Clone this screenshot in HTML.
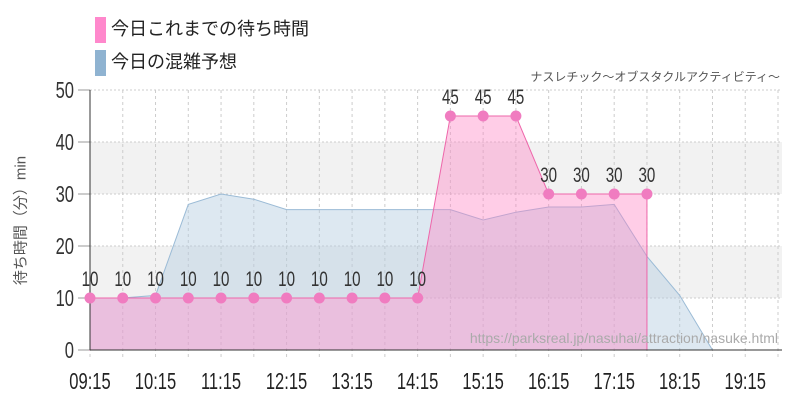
<!DOCTYPE html>
<html><head><meta charset="utf-8"><style>
body{margin:0;background:#fff;width:800px;height:400px;overflow:hidden;font-family:"Liberation Sans","Noto Sans CJK JP",sans-serif}
</style></head><body>
<svg id="c" width="800" height="400" xmlns="http://www.w3.org/2000/svg" font-family="'Liberation Sans','Noto Sans CJK JP',sans-serif"></svg>
<script>
const times=["09:15","09:45","10:15","10:45","11:15","11:45","12:15","12:45","13:15","13:45","14:15","14:45","15:15","15:45","16:15","16:45","17:15","17:45","18:15","18:45","19:15","19:45"];
const actual=[10,10,10,10,10,10,10,10,10,10,10,45,45,45,30,30,30,30];
const forecast=[10,10,10.5,28,30,29,27,27,27,27,27,27,25,26.5,27.5,27.5,28,18,10.5,0,0,0];
const yTicks=[0,10,20,30,40,50];
const xTickLabels=["09:15","10:15","11:15","12:15","13:15","14:15","15:15","16:15","17:15","18:15","19:15"];
const X0=90,X1=778,Y0=350,Y1=90,SX=0.72;
const xs=i=>X0+i*(X1-X0)/(times.length-1);
const ys=v=>Y0-v*(Y0-Y1)/50;
const svg=document.getElementById('c');const NS='http://www.w3.org/2000/svg';
function mk(t,a,p){const e=document.createElementNS(NS,t);for(const k in a)e.setAttribute(k,a[k]);(p||svg).appendChild(e);return e;}
for(let i=0;i<5;i++){if(i%2===1){const r=mk('rect',{x:X0,y:ys(yTicks[i+1]),width:X1-X0+4,height:ys(yTicks[i])-ys(yTicks[i+1]),fill:'#f2f2f2'});

}}
yTicks.forEach(v=>{const l=mk('line',{x1:X0,x2:X1+4,y1:ys(v),y2:ys(v),stroke:'#ccc','stroke-dasharray':'2,2'});


const t=mk('text',{x:74/SX,y:ys(v)+8,'text-anchor':'end','font-size':23,fill:'#333',transform:`scale(${SX},1)`});
t.textContent=v;


mk('line',{x1:78,x2:X0,y1:ys(v),y2:ys(v),stroke:'#999'});});
times.forEach((tm,i)=>{const l=mk('line',{x1:xs(i),x2:xs(i),y1:Y1,y2:Y0+8,stroke:'#ccc','stroke-dasharray':'3,3'});


if(xTickLabels.includes(tm)){const t=mk('text',{x:xs(i)/SX,y:389,'text-anchor':'middle','font-size':23,fill:'#222',transform:`scale(${SX},1)`});t.textContent=tm;

}});
let d=`M${xs(0)},${Y0}`;forecast.forEach((v,i)=>d+=` L${xs(i)},${ys(v)}`);d+=` L${xs(forecast.length-1)},${Y0}Z`;
const fa=mk('path',{d,fill:'rgba(180,205,225,0.45)',stroke:'#9bbbd6','stroke-width':1});


let d2=`M${xs(0)},${Y0}`;actual.forEach((v,i)=>d2+=` L${xs(i)},${ys(v)}`);d2+=` L${xs(actual.length-1)},${Y0}Z`;
const aa=mk('path',{d:d2,fill:'rgba(255,130,195,0.4)',stroke:'#ee66aa','stroke-width':1});


mk('line',{x1:X0,x2:X0,y1:Y1,y2:Y0,stroke:'#333'});mk('line',{x1:X0,x2:X1+4,y1:Y0,y2:Y0,stroke:'#333'});
actual.forEach((v,i)=>{const c=mk('circle',{cx:xs(i),cy:ys(v),r:5.5,fill:'#f07cc0'});


const t=mk('text',{x:xs(i)/SX,y:ys(v)-12,'text-anchor':'middle','font-size':21,fill:'#333',transform:`scale(${SX},1)`});t.textContent=v;

});
</script>
<div style="position:absolute;left:95px;top:14px;font-size:18px;color:#222;line-height:30px">
<div><span style="display:inline-block;width:11px;height:26px;background:#ff88cc;vertical-align:middle;margin-right:5px"></span>今日これまでの待ち時間</div>
<div style="margin-top:3px"><span style="display:inline-block;width:11px;height:26px;background:#8fb3d1;vertical-align:middle;margin-right:5px"></span>今日の混雑予想</div>
</div>
<div style="position:absolute;right:20px;top:68px;font-size:12px;color:#555">ナスレチック〜オブスタクルアクティビティ〜</div>
<div style="position:absolute;left:-55px;top:210px;width:150px;font-size:15px;color:#555;transform:rotate(-90deg);text-align:center;white-space:nowrap">待ち時間（分）min</div>
<div style="position:absolute;right:22px;top:330px;font-size:14px;color:#aaa">https://parksreal.jp/nasuhai/attraction/nasuke.html</div>
</body></html>
